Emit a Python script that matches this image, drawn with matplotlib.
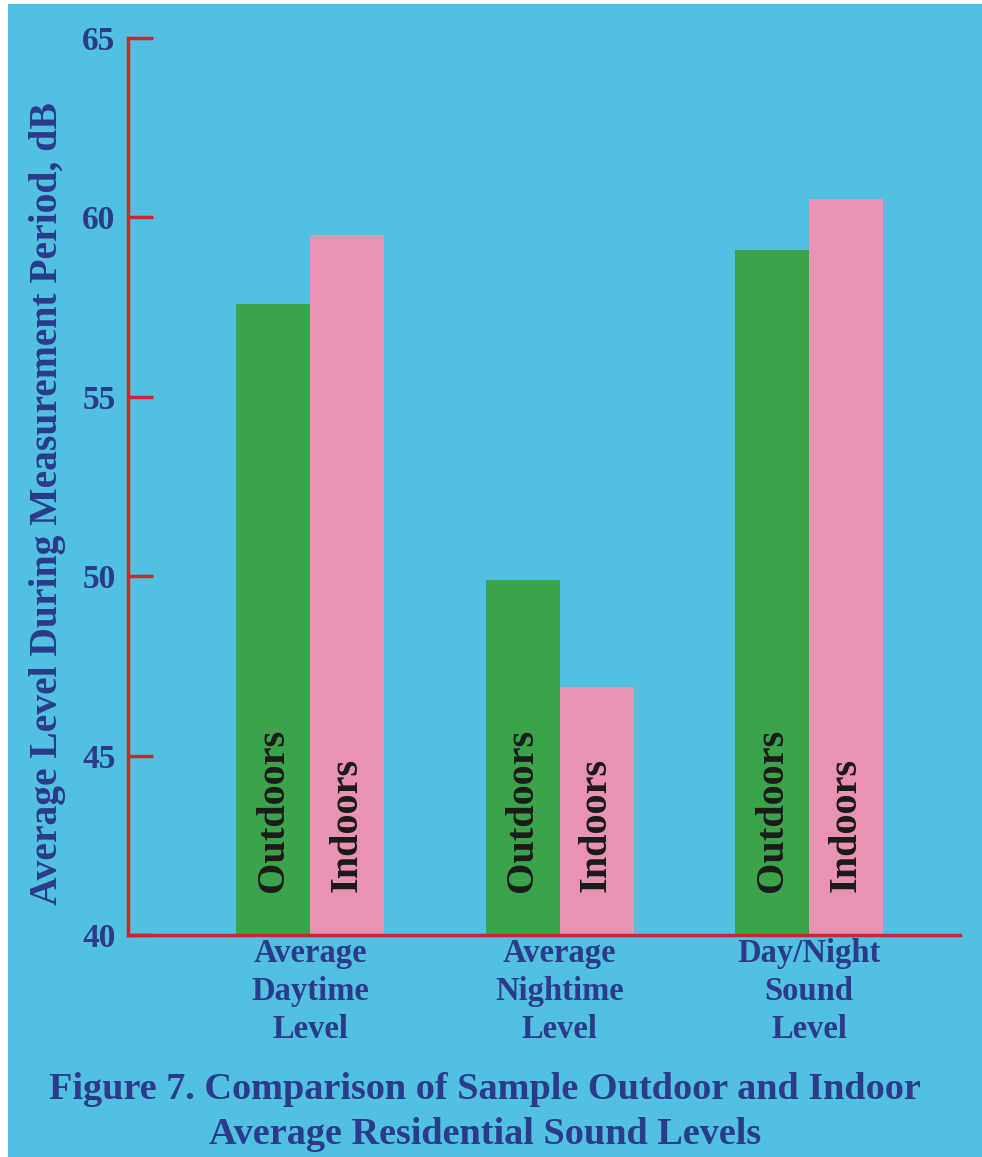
import matplotlib
matplotlib.use("Agg")
import matplotlib.pyplot as plt
from matplotlib.patches import Rectangle
import numpy as np

# Sound level data (dB)
categories = ["Average\nDaytime\nLevel", "Average\nNightime\nLevel", "Day/Night\nSound\nLevel"]
outdoors = [57.6, 49.9, 59.1]
indoors = [59.5, 46.9, 60.5]
series_names = ["Outdoors", "Indoors"]

BLUE = "#52C0E0"
GREEN = "#3BA44A"
PINK = "#E992B4"
RED = "#C9282E"
NAVY = "#2B3A8A"
FONT = "Liberation Serif"

fig = plt.figure(figsize=(9.82, 11.57), dpi=100)
fig.patch.set_facecolor("white")
# blue panel behind everything
fig.patches.append(Rectangle((8 / 982, 0), 1 - 8 / 982, 1 - 4 / 1157,
                             transform=fig.transFigure, facecolor=BLUE,
                             edgecolor="none", zorder=-10))

ax = fig.add_axes([128 / 982, 1 - 935 / 1157, 832 / 982, 897 / 1157])
ax.set_facecolor("none")
ax.set_zorder(1)

x = np.arange(len(categories))
w = 0.2966
ax.bar(x - w / 2, np.array(outdoors) - 40, w, bottom=40, color=GREEN, zorder=2)
ax.bar(x + w / 2, np.array(indoors) - 40, w, bottom=40, color=PINK, zorder=2)

for xi in x:
    for off, name in zip((-w / 2, w / 2), series_names):
        ax.text(xi + off, 41.2, name, rotation=90, ha="center", va="bottom",
                fontsize=29, fontweight="bold", family=FONT, color="#1a1a1a",
                zorder=3)

ax.set_ylim(40, 65)
ax.set_xlim(-0.7295, 2.605)
ax.set_yticks([40, 45, 50, 55, 60, 65])
ax.set_xticks(x)
ax.set_xticklabels(categories, fontsize=23.5, fontweight="bold", family=FONT,
                   color=NAVY, linespacing=1.3)
ax.tick_params(axis="x", length=0, pad=2)
ax.tick_params(axis="y", direction="in", length=18, width=2.5, color=RED,
               labelsize=24, labelcolor=NAVY, pad=9)
for lab in ax.get_yticklabels():
    lab.set_fontweight("bold")
    lab.set_family(FONT)

for side in ("top", "right"):
    ax.spines[side].set_visible(False)
for side in ("left", "bottom"):
    ax.spines[side].set_color(RED)
    ax.spines[side].set_linewidth(2.5)

fig.text(47.5 / 982, 1 - 504 / 1157, "Average Level During Measurement Period, dB",
         rotation=90, ha="center", va="center", fontsize=28.5, fontweight="bold",
         family=FONT, color=NAVY)

fig.text(485 / 982, 1 - 1112 / 1157,
         "Figure 7. Comparison of Sample Outdoor and Indoor\n"
         "Average Residential Sound Levels",
         ha="center", va="center", fontsize=27.5, fontweight="bold", family=FONT,
         color=NAVY, linespacing=1.35)

fig.savefig("out.png", dpi=100)
